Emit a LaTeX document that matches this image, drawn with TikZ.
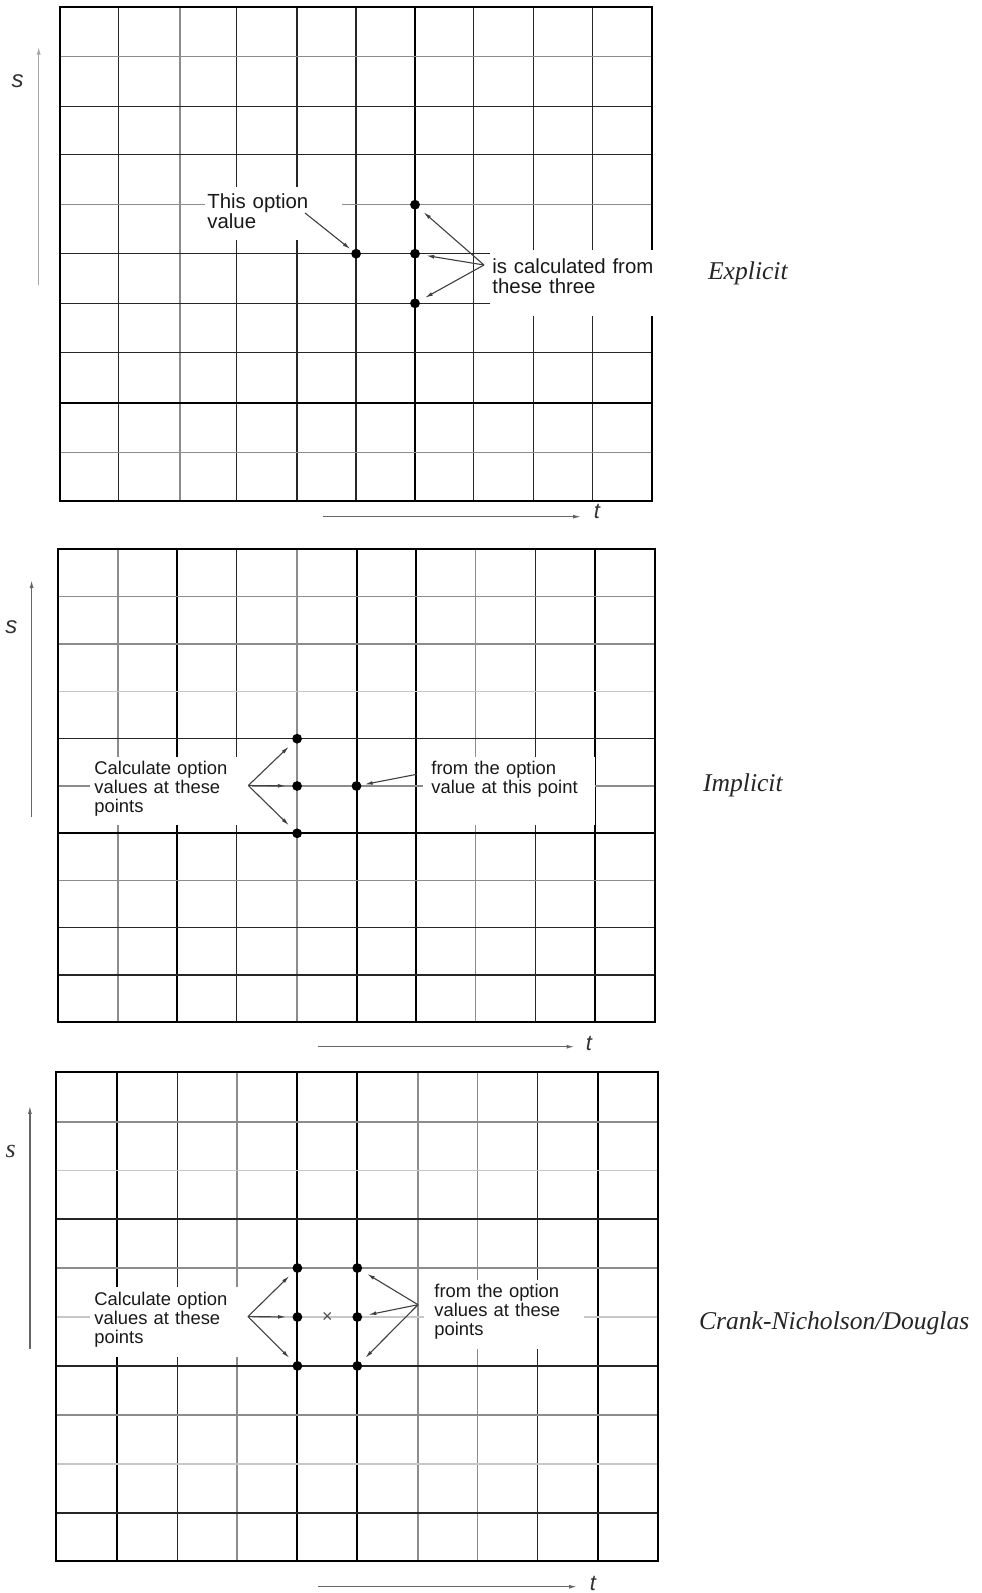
\documentclass[tikz,border=0pt]{standalone}
\usepackage{fontspec}
\setmainfont{Liberation Serif}
\setsansfont{Liberation Sans}
\usetikzlibrary{arrows.meta}

\begin{document}
\begin{tikzpicture}[x=0.5pt, y=-0.5pt,
      gl/.style={line width=0.75pt, black!85},
      gg/.style={line width=0.75pt, black!45},
      gv/.style={line width=0.75pt, black!22},
      gk/.style={line width=1pt, black},
      frame/.style={line width=1pt, black},
      pt/.style={circle, fill=black, inner sep=0pt, minimum size=4.9pt},
      lbl/.style={fill=white, anchor=north west, align=left, inner xsep=1pt,
                  inner ysep=1pt, text=black!90,
                  font=\sffamily\fontsize{10.2}{10.15}\selectfont},
      lbls/.style={lbl, font=\sffamily\fontsize{9.2}{9.5}\selectfont},
      ptr/.style={-{Latex[length=4pt,width=1.9pt]}, line width=0.55pt, black!75,
                  shorten >=3pt},
      axis/.style={-{Latex[length=4pt,width=2pt]}, line width=0.6pt, black!60},
      ax/.style={font=\sffamily\itshape\fontsize{12}{12}\selectfont, text=black!80},
      meth/.style={anchor=west, font=\rmfamily\itshape\fontsize{12.8}{14}\selectfont,
                   text=black!85}
    ]
    \path[fill=white] (0,0) rectangle (981,1593);
    \useasboundingbox (0,0) rectangle (981,1593);

    % Explicit
    \foreach \x/\c in {118.7/gl, 180.1/gg, 236.5/gl, 297.1/gl, 356.1/gl,
                       415/gk, 473.5/gl, 533.7/gl, 592.6/gl}
      \draw[\c] (\x,6.7) -- (\x,501);
    \foreach \y/\c in {56.7/gg, 106.7/gl, 154.3/gl, 204.7/gg, 253.7/gl,
                       303.3/gl, 352.3/gl, 402.7/gk, 452.3/gg}
      \draw[\c] (59.8,\y) -- (651.5,\y);
    \draw[frame] (59.8,6.7) rectangle (651.5,501);
    \coordinate (s1a) at (38.7,285);
    \coordinate (s1b) at (38.7,46.7);
    \draw[axis, black!35] (s1a) -- (s1b);
    \node[ax] (slab1) at (17.7,80.7) {s};
    \coordinate (t1a) at (323,516.7);
    \coordinate (t1b) at (581,516.7);
    \draw[axis] (t1a) -- (t1b);
    \node[ax, font=\sffamily\itshape\fontsize{11}{11}\selectfont] (tlab1) at (597,511) {t};

    \node[lbl, text width=66.5pt, text height=9.35pt, text depth=15.15pt]
      (optval) at (205,187) {This option\\value};
    \node[lbl, text width=81pt, text height=10.35pt, text depth=20.65pt]
      (calcfrom) at (490,250) {is calculated from\\these three};
    \node[pt] (p0) at (356.1,253.7) {};
    \node[pt] (pu) at (415,204.7) {};
    \node[pt] (pm) at (415,253.7) {};
    \node[pt] (pd) at (415,303.3) {};
    \coordinate (e1) at (305,213);
    \coordinate (e2) at (484,265);
    \draw[ptr, shorten >=1pt] (e1) -- (p0);
    \foreach \p in {pu,pm,pd}
      \draw[ptr] (e2) -- (\p);
    \node[meth] (explicit) at (701,273) {Explicit};

    % Implicit
    \foreach \x/\c in {117.8/gg, 176.8/gk, 236.5/gl, 297.1/gg, 356.5/gk,
                       415.8/gk, 475.6/gg, 535.4/gl, 594.7/gk}
      \draw[\c] (\x,549) -- (\x,1022.3);
    \foreach \y/\c in {596.7/gg, 644/gg, 691.7/gv, 738.7/gl, 786/gg,
                       833.3/gk, 880.7/gg, 927.7/gl, 975/gl}
      \draw[\c] (57.7,\y) -- (654.5,\y);
    \draw[frame] (57.7,549) rectangle (654.5,1022.3);
    \coordinate (s2a) at (31.6,816.7);
    \coordinate (s2b) at (31.6,580);
    \draw[axis] (s2a) -- (s2b);
    \node[ax] (slab2) at (11.4,627.3) {s};
    \coordinate (t2a) at (317.8,1046.7);
    \coordinate (t2b) at (574.5,1046.7);
    \draw[axis] (t2a) -- (t2b);
    \node[ax, font=\sffamily\itshape\fontsize{11}{11}\selectfont] (tlab2) at (589,1043) {t};

    \node[lbls, text width=77pt, inner xsep=2pt, text height=7.4pt, text depth=24.6pt]
      (calcpts) at (90,757) {Calculate option\\values at these\\points};
    \node[lbls, text width=78pt, inner xsep=4pt, text height=7.4pt, text depth=24.6pt]
      (fromopt) at (423,757) {from the option\\value at this point};
    \node[pt] (q1) at (297.1,738.7) {};
    \node[pt] (q2) at (297.1,786) {};
    \node[pt] (q3) at (297.1,833.3) {};
    \node[pt] (q0) at (356.5,786) {};
    \coordinate (c2) at (248.3,785.5);
    \coordinate (f2) at (416.7,774.3);
    \foreach \p in {q1,q2,q3}
      \draw[ptr] (c2) -- (\p);
    \draw[ptr, shorten >=1.5pt] (f2) -- (q0);
    \node[meth] (implicit) at (696,785) {Implicit};

    % Crank-Nicholson/Douglas
    \foreach \x/\c in {116.7/gk, 177.4/gl, 237.2/gg, 297.4/gk, 357.3/gk,
                       418/gg, 477.4/gg, 537.6/gl, 598.3/gk}
      \draw[\c] (\x,1071.9) -- (\x,1561.4);
    \foreach \y/\c in {1121.9/gg, 1170.5/gv, 1219.1/gl, 1268/gg, 1317/gv,
                       1365.9/gl, 1414.9/gg, 1463.8/gv, 1513.1/gl}
      \draw[\c] (56.4,\y) -- (658.1,\y);
    \draw[frame] (56.4,1071.9) rectangle (658.1,1561.4);
    \coordinate (s3a) at (29.9,1348.9);
    \coordinate (s3b) at (29.9,1105.9);
    \draw[axis] (s3a) -- (s3b);
    \node[ax, font=\rmfamily\itshape\fontsize{13}{13}\selectfont] (slab3) at (10.7,1151.8) {s};
    \coordinate (t3a) at (318,1586.7);
    \coordinate (t3b) at (577,1586.7);
    \draw[axis] (t3a) -- (t3b);
    \node[ax, font=\sffamily\itshape\fontsize{11}{11}\selectfont] (tlab3) at (593,1583) {t};

    \node[lbls, text width=77pt, inner xsep=2pt, text height=8pt, text depth=25pt]
      (calcpts3) at (90,1287) {Calculate option\\values at these\\points};
    \node[lbls, text width=70pt, inner xsep=5pt, text height=7.65pt, text depth=24.85pt]
      (fromopt3) at (424,1280) {from the option\\values at these\\points};
    \node[pt] (r1) at (297.4,1268) {};
    \node[pt] (r2) at (297.4,1317) {};
    \node[pt] (r3) at (297.4,1365.9) {};
    \node[pt] (v1) at (357.3,1268) {};
    \node[pt] (v2) at (357.3,1317) {};
    \node[pt] (v3) at (357.3,1365.9) {};
    \node[text=black!70, font=\sffamily\fontsize{9}{9}\selectfont] (mid) at (327.4,1317.3) {×};
    \coordinate (c3) at (247.9,1316.6);
    \coordinate (f3) at (418,1304.7);
    \foreach \p in {r1,r2,r3}
      \draw[ptr] (c3) -- (\p);
    \foreach \p in {v1,v2,v3}
      \draw[ptr] (f3) -- (\p);
    \node[meth] (cranknich) at (692,1323.3) {Crank-Nicholson/Douglas};
  \end{tikzpicture}
\end{document}
